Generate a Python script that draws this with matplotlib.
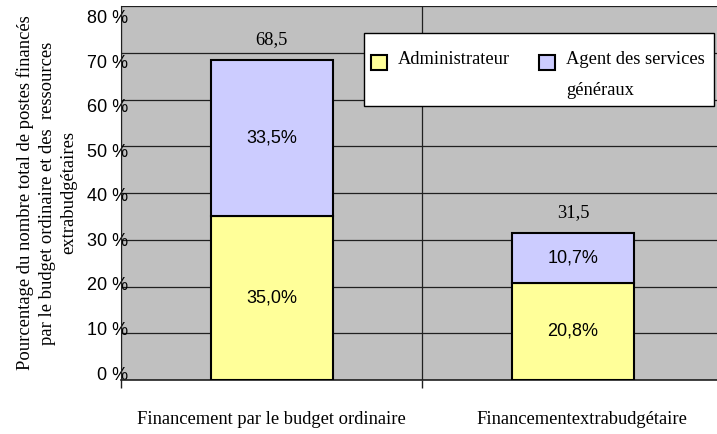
import numpy as np
import matplotlib.pyplot as plt
from matplotlib.patches import Rectangle
from matplotlib.transforms import ScaledTranslation

categories = ["Financement par le budget ordinaire", "Financementextrabudgétaire"]
administrateur = [35.0, 20.8]
agent = [33.5, 10.7]
totals = [68.5, 31.5]
series_names = ["Administrateur\n ", "Agent des services\ngénéraux"]
y_ticks = [0, 10, 20, 30, 40, 50, 60, 70, 80]

serif = "Liberation Serif"
sans = "Liberation Sans"

fig = plt.figure(figsize=(7.17, 4.34), dpi=100)
# plot area in pixels: left 121, bottom 380, top 6, right runs off the image
ax = fig.add_axes([121 / 717, 54 / 434, 602.5 / 717, 374 / 434])
ax.set_facecolor("#C0C0C0")


def px(dx, dy):
    # offset in pixels for a text
    return ScaledTranslation(dx / 100, dy / 100, fig.dpi_scale_trans)


x = np.arange(len(categories))
w = 0.405
ax.bar(x, administrateur, width=w, color="#FFFF99", edgecolor="black",
       linewidth=1.5, zorder=3, label=series_names[0])
ax.bar(x, agent, width=w, bottom=administrateur, color="#CCCCFF",
       edgecolor="black", linewidth=1.5, zorder=3, label=series_names[1])

for i in range(len(categories)):
    ax.text(x[i], administrateur[i] / 2, f"{administrateur[i]:.1f}%".replace(".", ","),
            ha="center", va="center", fontsize=13, family=sans, zorder=4)
    ax.text(x[i], administrateur[i] + agent[i] / 2, f"{agent[i]:.1f}%".replace(".", ","),
            ha="center", va="center", fontsize=13, family=sans, zorder=4)
    ax.text(x[i], totals[i] + 4.3, f"{totals[i]:.1f}".replace(".", ","),
            ha="center", va="center", fontsize=13.3, family=serif, zorder=4)

ax.set_xlim(-0.5, 1.5)
ax.set_ylim(0, 80)
ax.set_yticks(y_ticks)
ax.set_yticklabels([f"{v} %" for v in y_ticks], family=sans, fontsize=13)
ax.tick_params(axis="y", length=0, pad=-5)
# excel squeezes the labels a bit: low ones sit higher, top ones lower
for v, lab in zip(y_ticks, ax.get_yticklabels()):
    lab.set_transform(lab.get_transform() + px(0, 7 - 0.22 * v))

ax.set_xticks([-0.5, 0.5, 1.5])
ax.set_xticklabels([])
ax.tick_params(axis="x", length=5.5, width=1, color="#202020")
ax.set_xticks(x, minor=True)
ax.set_xticklabels(categories, minor=True, family=serif, fontsize=13.3)
ax.tick_params(axis="x", which="minor", length=0, pad=22)
lab2 = ax.get_xticklabels(minor=True)[1]
lab2.set_transform(lab2.get_transform() + px(9, 0))

ax.grid(True, axis="both", which="major", color="#202020", linewidth=0.9, zorder=1)
ax.set_axisbelow(True)
for s in ["top", "right"]:
    ax.spines[s].set_visible(False)
ax.spines["left"].set_color("#202020")
ax.spines["bottom"].set_color("#202020")
ax.spines["bottom"].set_linewidth(1.2)

ax.set_ylabel("Pourcentage du nombre total de postes financés\npar le budget ordinaire et des  ressources\nextrabudgétaires",
              family=serif, fontsize=13.4, linespacing=1.33, labelpad=7)

# legend box
px_w, px_h = 602.5, 374
box = Rectangle(((364 - 121) / px_w, (380 - 105.5) / px_h), 350 / px_w, 72.5 / px_h,
                transform=ax.transAxes, facecolor="white", edgecolor="black",
                linewidth=1, zorder=5)
ax.add_patch(box)
leg = ax.legend(loc="upper left", bbox_to_anchor=((371 - 121) / px_w, (380 - 51) / px_h),
                ncol=2, frameon=False, prop={"family": serif, "size": 13.3},
                handlelength=0.85, handleheight=0.85, handletextpad=0.6,
                columnspacing=1.6, borderaxespad=0, borderpad=0)
leg.set_zorder(6)
for t in leg.get_texts():
    t.set_linespacing(2.1)
for h in leg.legend_handles:
    h.set_y(h.get_y() + 13 * 0.72)

fig.savefig("out.png", dpi=100)
